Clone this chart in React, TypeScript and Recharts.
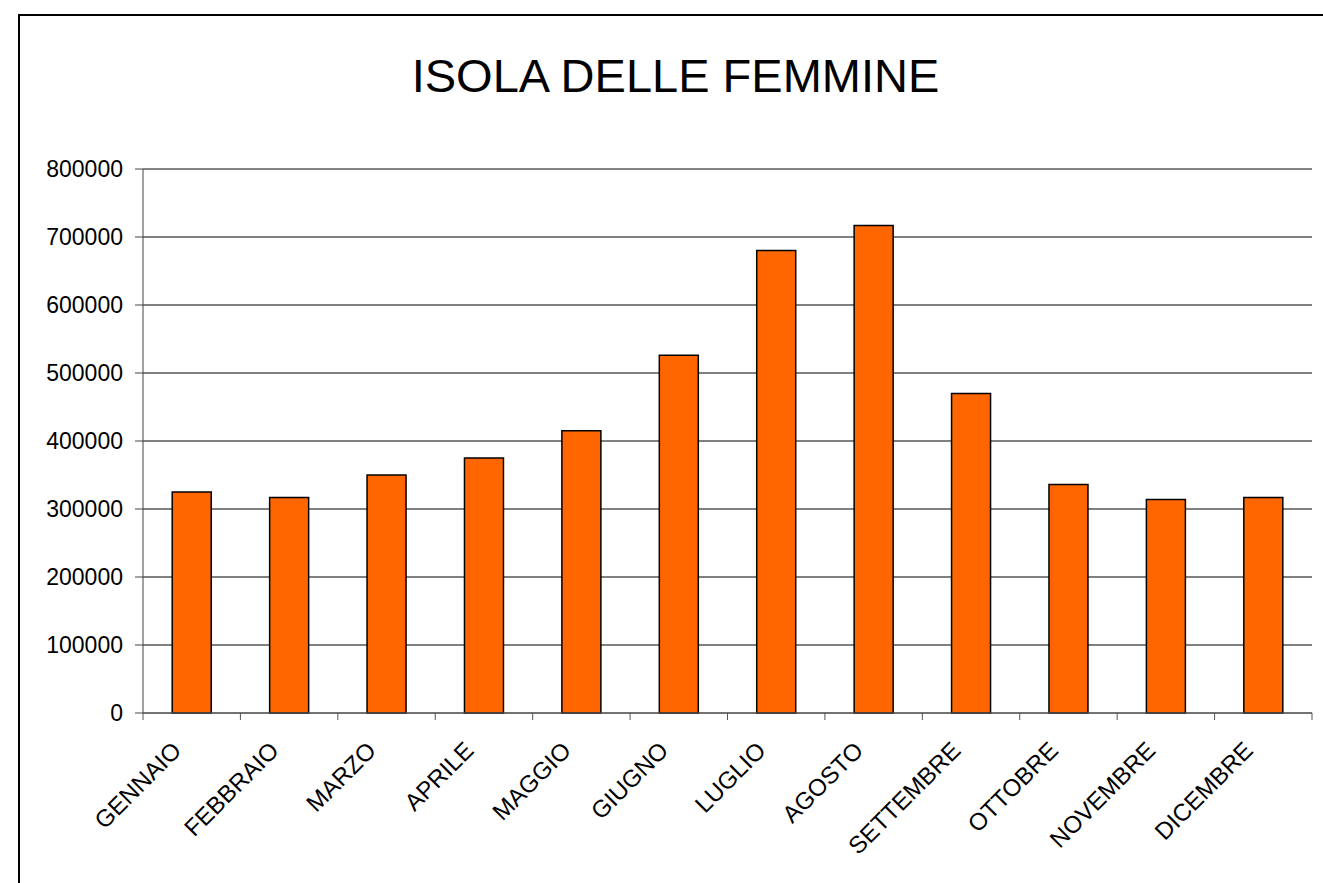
import React from 'react';
import { BarChart, Bar, XAxis, YAxis, CartesianGrid, ReferenceLine } from 'recharts';

const months = [
  'GENNAIO', 'FEBBRAIO', 'MARZO', 'APRILE', 'MAGGIO', 'GIUGNO',
  'LUGLIO', 'AGOSTO', 'SETTEMBRE', 'OTTOBRE', 'NOVEMBRE', 'DICEMBRE',
];
const presenze = [325000, 317000, 350000, 375000, 415000, 526000, 680000, 717000, 470000, 336000, 314000, 317000];
const yTicks = [0, 100000, 200000, 300000, 400000, 500000, 600000, 700000, 800000];
const title = 'ISOLA DELLE FEMMINE';

const chartData = months.map((m, i) => ({ month: m, value: presenze[i] }));

const FONT = '"Liberation Sans", Arial, sans-serif';
const TICK_SIZE = 7;

// month label rotated -45deg plus a tick mark on each category boundary
const MonthTick = (props: any) => {
  const { x, y, payload, index, visibleTicksCount, width } = props;
  const half = payload && payload.offset ? payload.offset : width / visibleTicksCount / 2;
  const y0 = y - TICK_SIZE;
  const lx = x - 9;
  const ly = y + 32;
  return (
    <g>
      <line x1={x - half} y1={y0} x2={x - half} y2={y0 + TICK_SIZE} stroke="#555" strokeWidth={1} />
      {index === visibleTicksCount - 1 && (
        <line x1={x + half} y1={y0} x2={x + half} y2={y0 + TICK_SIZE} stroke="#555" strokeWidth={1} />
      )}
      <text
        x={lx}
        y={ly}
        textAnchor="end"
        transform={`rotate(-45, ${lx}, ${ly})`}
        fontFamily={FONT}
        fontSize={24}
        fill="#000"
      >
        {payload.value}
      </text>
    </g>
  );
};

export default function App() {
  return (
    <div style={{ position: 'fixed', left: 0, top: 0, width: 1323, height: 883, overflow: 'hidden', background: '#fff' }}>
      <BarChart
        width={1323}
        height={883}
        data={chartData}
        margin={{ top: 169, right: 11, left: 0, bottom: 0 }}
        barCategoryGap="30%"
      >
        <CartesianGrid vertical={false} stroke="#000" strokeWidth={1} />
        <XAxis
          dataKey="month"
          height={170}
          interval={0}
          tickLine={false}
          tickSize={TICK_SIZE}
          tickMargin={0}
          axisLine={{ stroke: '#666', strokeWidth: 1 }}
          tick={<MonthTick />}
        />
        <YAxis
          width={143}
          domain={[0, 800000]}
          ticks={yTicks}
          interval={0}
          tickSize={8}
          tickMargin={12}
          axisLine={{ stroke: '#444', strokeWidth: 1 }}
          tickLine={{ stroke: '#444', strokeWidth: 1 }}
          tick={{ fill: '#000', fontSize: 23, fontFamily: FONT }}
        />
        <ReferenceLine y={800000} stroke="#888" strokeWidth={1} />
        <ReferenceLine x="DICEMBRE" position="end" stroke="#888" strokeWidth={2} />
        <Bar dataKey="value" fill="#FF6600" stroke="#000" strokeWidth={1.5} isAnimationActive={false} />
      </BarChart>
      <svg
        width={1323}
        height={883}
        style={{ position: 'absolute', left: 0, top: 0, pointerEvents: 'none' }}
      >
        <rect x={19} y={15} width={2000} height={2000} fill="none" stroke="#000" strokeWidth={2} />
        <text x={675.5} y={92} textAnchor="middle" fontFamily={FONT} fontSize={47} fill="#000">
          {title}
        </text>
      </svg>
    </div>
  );
}
